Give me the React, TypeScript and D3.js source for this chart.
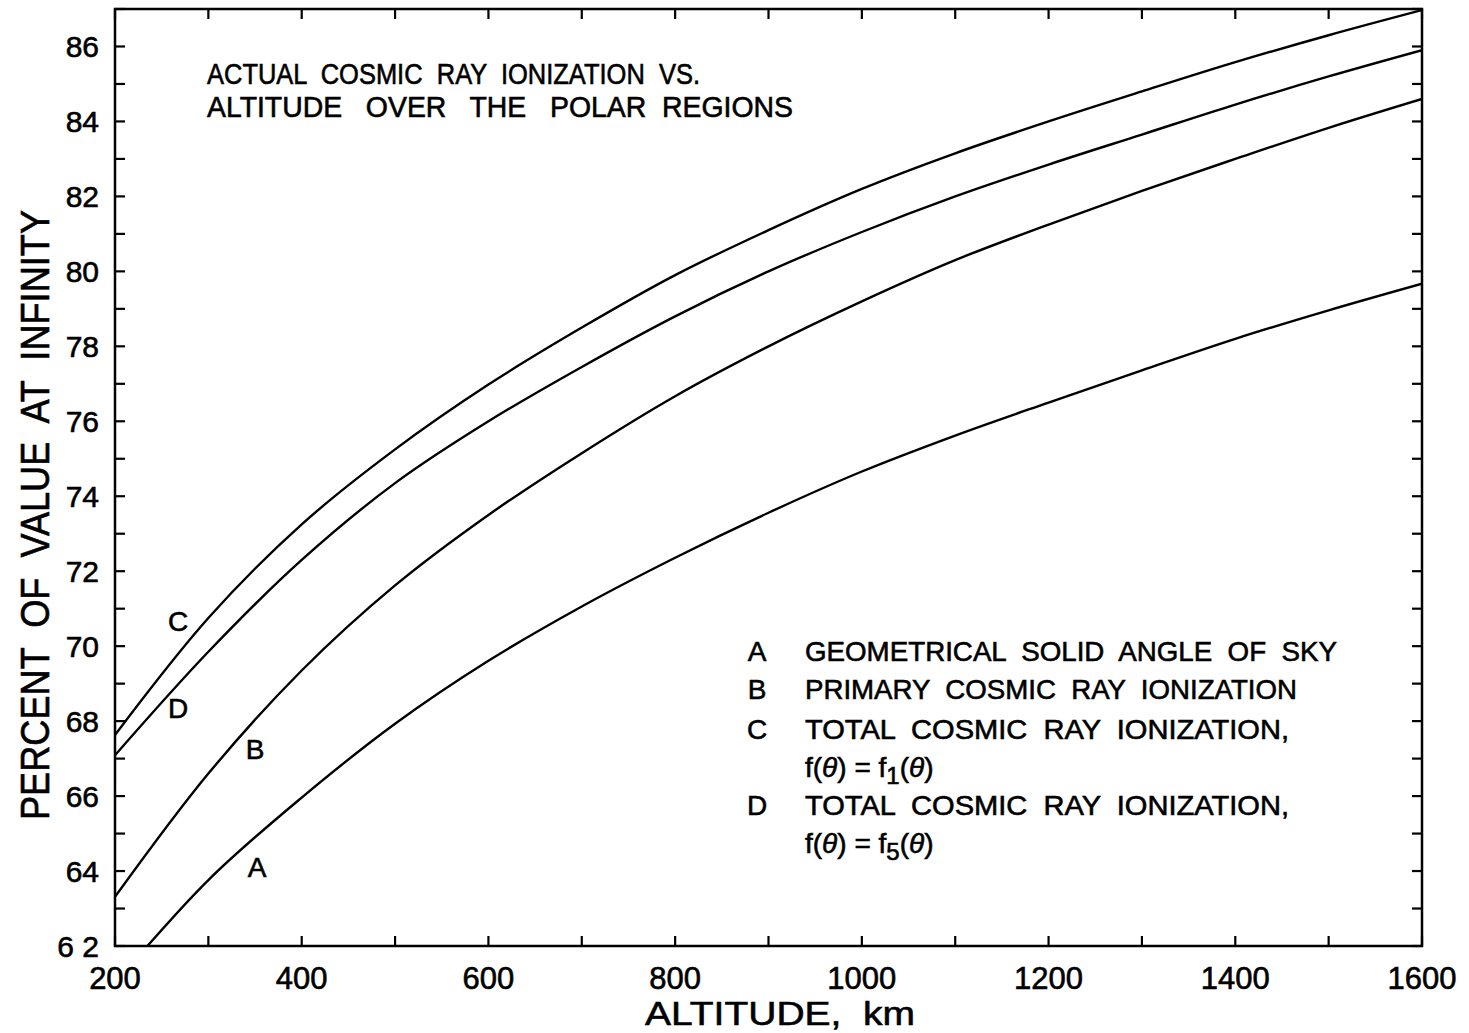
import React from "react";
import * as d3 from "d3";

// Altitude grid (km)
const altitudes = [200, 300, 400, 500, 600, 700, 800, 900, 1000, 1100, 1200, 1300, 1400, 1500, 1600];

// Percent of value at infinity (curve A drops below the 62% floor near 200 km and is clipped)
const seriesA = [61.0, 63.76, 65.96, 67.93, 69.61, 71.06, 72.36, 73.56, 74.66, 75.62, 76.5, 77.36, 78.2, 78.96, 79.67];
const seriesB = [63.31, 66.6, 69.35, 71.62, 73.5, 75.15, 76.67, 78.0, 79.2, 80.3, 81.25, 82.15, 83.0, 83.83, 84.6];
const seriesC = [67.63, 70.75, 73.25, 75.25, 76.98, 78.5, 79.9, 81.1, 82.2, 83.15, 84.0, 84.8, 85.58, 86.3, 86.97];
const seriesD = [67.09, 69.85, 72.3, 74.35, 76.0, 77.45, 78.8, 80.0, 81.05, 82.0, 82.85, 83.65, 84.45, 85.2, 85.9];

const xTickLabels = [200, 400, 600, 800, 1000, 1200, 1400, 1600];
const yTickLabels = [62, 64, 66, 68, 70, 72, 74, 76, 78, 80, 82, 84, 86];

const legendKeys = ["A", "B", "C", "D"];
const legendLines = [
  "GEOMETRICAL  SOLID  ANGLE  OF  SKY",
  "PRIMARY  COSMIC  RAY  IONIZATION",
  "TOTAL  COSMIC  RAY  IONIZATION,",
  "TOTAL  COSMIC  RAY  IONIZATION,",
];
const legendSubscripts = ["", "", "1", "5"];

const FONT = "'Liberation Sans', Arial, sans-serif";

export default function App() {
  const W = 1469;
  const H = 1033;
  const left = 115, right = 1422, top = 9, bottom = 946;

  const x = d3.scaleLinear().domain([200, 1600]).range([left, right]);
  const y = d3.scaleLinear().domain([62, 87]).range([bottom, top]);

  const line = d3
    .line<[number, number]>()
    .x((d) => x(d[0]))
    .y((d) => y(d[1]))
    .curve(d3.curveCatmullRom.alpha(0.5));

  const curves = [seriesA, seriesB, seriesC, seriesD].map((s) =>
    altitudes.map((a, i) => [a, s[i]] as [number, number])
  );

  const xMinor = d3.range(200, 1601, 100);
  const yMinor = d3.range(62, 88, 1);
  const tickLen = 10;

  const legendRowY = [651, 689, 729, 805];
  const ink = { fill: "#000", stroke: "#000", strokeWidth: 0.6 };
  const pre = { whiteSpace: "pre" as const };

  return (
    <svg width={W} height={H} style={{ position: "absolute", left: 0, top: 0, background: "#fff" }} fontFamily={FONT}>
      <rect x={0} y={0} width={W} height={H} fill="#fff" />
      <defs>
        <clipPath id="plot-clip">
          <rect x={left} y={top} width={right - left} height={bottom - top} />
        </clipPath>
      </defs>

      {/* frame */}
      <rect x={left} y={top} width={right - left} height={bottom - top} fill="none" stroke="#000" strokeWidth={2.5} />

      {/* inward ticks on all four sides */}
      {xMinor.map((v) => (
        <g key={"xt" + v}>
          <line x1={x(v)} x2={x(v)} y1={bottom} y2={bottom - tickLen} stroke="#000" strokeWidth={2.2} />
          <line x1={x(v)} x2={x(v)} y1={top} y2={top + tickLen} stroke="#000" strokeWidth={2.2} />
        </g>
      ))}
      {yMinor.map((v) => (
        <g key={"yt" + v}>
          <line x1={left} x2={left + tickLen} y1={y(v)} y2={y(v)} stroke="#000" strokeWidth={2.2} />
          <line x1={right} x2={right - tickLen} y1={y(v)} y2={y(v)} stroke="#000" strokeWidth={2.2} />
        </g>
      ))}

      {/* tick labels */}
      {xTickLabels.map((v) => (
        <text key={"xl" + v} x={x(v)} y={989} textAnchor="middle" fontSize={31} {...ink}>
          {v}
        </text>
      ))}
      {yTickLabels.map((v) => (
        <text key={"yl" + v} x={99} y={y(v)} dy="0.36em" textAnchor="end" fontSize={30} {...ink}>
          {v === 62 ? <tspan style={pre}>{"6 2"}</tspan> : v}
        </text>
      ))}

      {/* axis titles */}
      <text x={780} y={1025} textAnchor="middle" fontSize={34} textLength={270} lengthAdjust="spacingAndGlyphs" style={pre} {...ink}>
        {"ALTITUDE,  km"}
      </text>
      <text
        transform={`translate(49, ${515}) rotate(-90)`}
        textAnchor="middle"
        fontSize={40}
        textLength={610}
        lengthAdjust="spacingAndGlyphs"
        style={pre}
        {...ink}
      >
        {"PERCENT  OF  VALUE  AT  INFINITY"}
      </text>

      {/* title */}
      <text x={207} y={84} fontSize={29} textLength={493} lengthAdjust="spacingAndGlyphs" style={pre} {...ink}>
        {"ACTUAL  COSMIC  RAY  IONIZATION  VS."}
      </text>
      <text x={207} y={117} fontSize={29} textLength={586} lengthAdjust="spacingAndGlyphs" style={pre} {...ink}>
        {"ALTITUDE   OVER   THE   POLAR  REGIONS"}
      </text>

      {/* curves */}
      <g clipPath="url(#plot-clip)">
        {curves.map((c, i) => (
          <path key={"c" + i} d={line(c) || ""} fill="none" stroke="#000" strokeWidth={2.4} />
        ))}
      </g>

      {/* curve labels */}
      <text x={178} y={621} dy="0.36em" textAnchor="middle" fontSize={28} {...ink}>C</text>
      <text x={178} y={708} dy="0.36em" textAnchor="middle" fontSize={28} {...ink}>D</text>
      <text x={255} y={749} dy="0.36em" textAnchor="middle" fontSize={28} {...ink}>B</text>
      <text x={257} y={867} dy="0.36em" textAnchor="middle" fontSize={28} {...ink}>A</text>

      {/* key */}
      {legendKeys.map((k, i) => (
        <g key={"lg" + k}>
          <text x={757} y={legendRowY[i]} dy="0.36em" textAnchor="middle" fontSize={28} {...ink}>
            {k}
          </text>
          <text
            x={805}
            y={legendRowY[i]}
            dy="0.36em"
            fontSize={28}
            textLength={i === 0 ? 532 : i === 1 ? 492 : 484}
            lengthAdjust="spacingAndGlyphs"
            style={pre}
            {...ink}
          >
            {legendLines[i]}
          </text>
          {legendSubscripts[i] && (
            <text x={805} y={legendRowY[i] + 38} dy="0.36em" fontSize={28} {...ink}>
              <tspan>f(</tspan>
              <tspan fontStyle="italic">θ</tspan>
              <tspan>) = f</tspan>
              <tspan dy="7" fontSize={24}>{legendSubscripts[i]}</tspan>
              <tspan dy="-7">(</tspan>
              <tspan fontStyle="italic">θ</tspan>
              <tspan>)</tspan>
            </text>
          )}
        </g>
      ))}
    </svg>
  );
}
